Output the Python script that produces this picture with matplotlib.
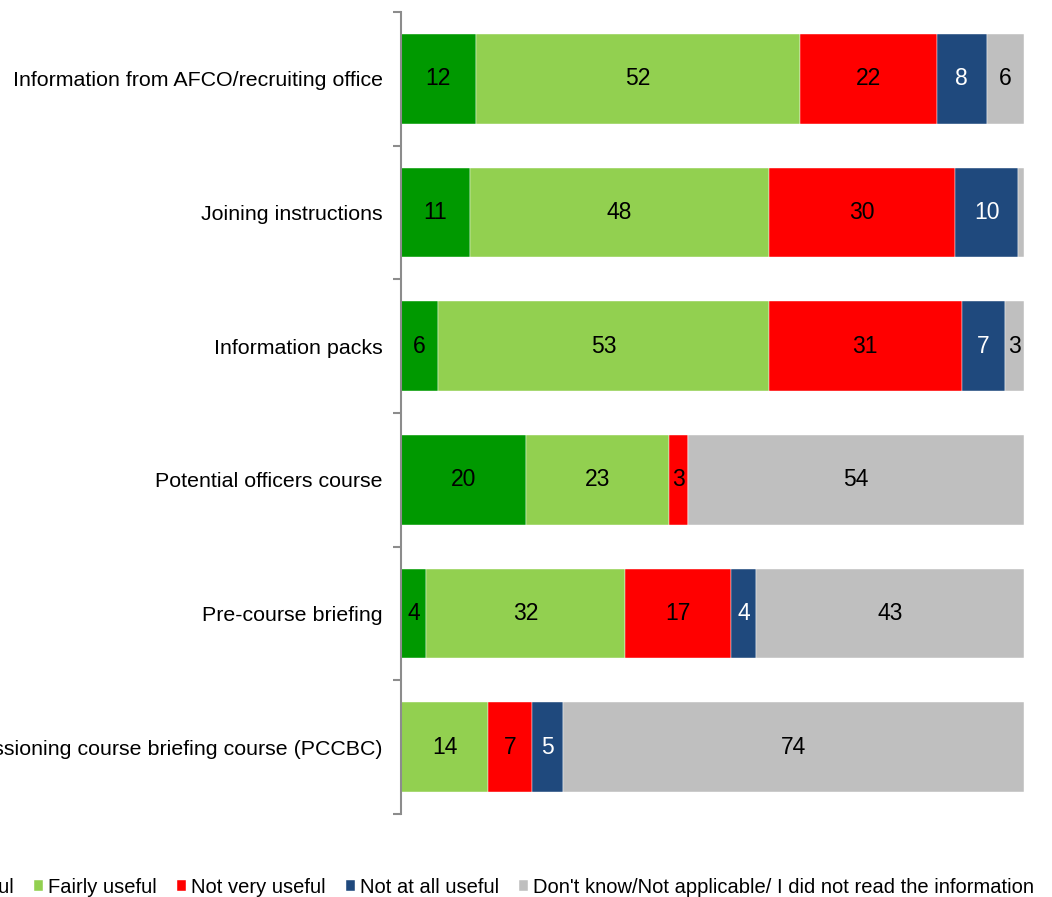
import matplotlib
matplotlib.use("Agg")
import matplotlib.pyplot as plt
import numpy as np

categories = [
    "Information from AFCO/recruiting office",
    "Joining instructions",
    "Information packs",
    "Potential officers course",
    "Pre-course briefing",
    "Pre-commissioning course briefing course (PCCBC)",
]
series_names = [
    "Very useful",
    "Fairly useful",
    "Not very useful",
    "Not at all useful",
    "Don't know/Not applicable/ I did not read the information",
]
very_useful = [12, 11, 6, 20, 4, 0]
fairly_useful = [52, 48, 53, 23, 32, 14]
not_very_useful = [22, 30, 31, 3, 17, 7]
not_at_all_useful = [8, 10, 7, 0, 4, 5]
dont_know = [6, 1, 3, 54, 43, 74]

colors = ["#009900", "#92D050", "#FF0000", "#1F497D", "#BFBFBF"]
text_colors = ["black", "black", "black", "white", "black"]

plt.rcParams["font.family"] = ["Liberation Sans", "DejaVu Sans"]

fig = plt.figure(figsize=(10.52, 8.97), dpi=100)
ax = fig.add_axes([401 / 1052, 1 - 814 / 897, 623 / 1052, 802 / 897])

series = [very_useful, fairly_useful, not_very_useful, not_at_all_useful, dont_know]
y = np.arange(len(categories))
left = np.zeros(len(categories))
for vals, name, col, tcol in zip(series, series_names, colors, text_colors):
    vals = np.array(vals, dtype=float)
    bars = ax.barh(y, vals, left=left, height=0.67, color=col, label=name,
                   edgecolor="white", linewidth=0.3)
    for b, v in zip(bars, vals):
        if v >= 2:
            ax.text(b.get_x() + b.get_width() / 2, b.get_y() + b.get_height() / 2,
                    f"{int(v)}", ha="center", va="center", fontsize=16.5, color=tcol)
    left += vals

ax.set_xlim(0, 100)
ax.set_ylim(len(categories) - 0.5, -0.5)
ax.set_yticks(y)
ax.set_yticklabels(categories, fontsize=15.4)
ax.set_yticks(np.arange(-0.5, len(categories)), minor=True)
ax.tick_params(axis="y", which="major", length=0, pad=13)
ax.tick_params(axis="y", which="minor", length=6, width=1.5, color="#8C8C8C")
ax.set_xticks([])
for s in ["top", "right", "bottom"]:
    ax.spines[s].set_visible(False)
ax.spines["left"].set_color("#8C8C8C")
ax.spines["left"].set_linewidth(1.5)

handles, labels = ax.get_legend_handles_labels()
fig.legend(handles, labels, loc="lower left", bbox_to_anchor=(-0.095, 0.0),
           ncol=5, frameon=False, handlelength=0.45, handleheight=0.45,
           handletextpad=0.25, columnspacing=1.0, borderpad=0, borderaxespad=0,
           prop={"size": 14.5})

fig.savefig("out.png", dpi=100)
